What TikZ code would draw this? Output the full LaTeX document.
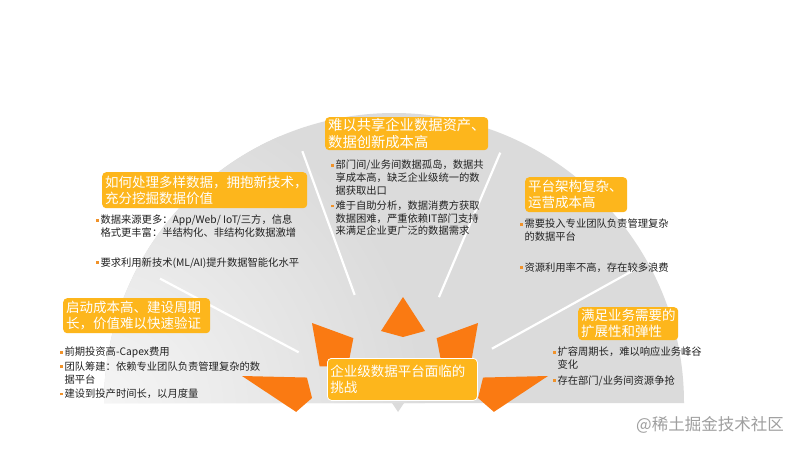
\documentclass[tikz,border=0pt]{standalone}
\usepackage{fontspec}
\setmainfont{Noto Sans CJK SC}
\usetikzlibrary{calc}
\definecolor{boxc}{HTML}{FDB61C}
\definecolor{arrc}{HTML}{FA7A12}
\definecolor{bulc}{HTML}{F0922A}
\definecolor{txtc}{HTML}{222222}
\definecolor{fanc}{HTML}{DBDBDB}
\definecolor{fanl}{HTML}{F6F6F6}
\newcommand\bul{\makebox[0.42em][l]{\textcolor{bulc}{\rule[0.22em]{0.28em}{0.28em}}}}
\newcommand\nob{\hspace*{0.42em}}
\newcommand\kite[4]{%
  \coordinate (kO) at #1; \coordinate (kI) at #2;
  \coordinate (kW) at ($(kO)!#3!(kI)$);
  \fill[arrc] (kO) -- ($(kW)!#4!90:(kI)$) -- (kI) -- ($(kW)!#4!-90:(kI)$) -- cycle;}
\tikzset{
  hbox/.style={fill=boxc, rounded corners=4pt, text=white, align=left, anchor=north west,
    inner xsep=3pt, inner ysep=1pt, font=\fontsize{13.5}{16}\selectfont},
  btext/.style={anchor=north west, inner sep=0pt, align=left, text=txtc,
    font=\fontsize{10.3}{12.6}\selectfont},
  spoke/.style={white, line width=2.2pt}
}
\begin{document}
\begin{tikzpicture}[x=1pt,y=-1pt]
\useasboundingbox (0,0) rectangle (800,450);
\fill[white] (0,0) rectangle (800,450);
% fan
\coordinate (C) at (394,403);
\fill[fanc] (104,403) arc[start angle=180,end angle=0,radius=290pt] -- cycle;
\begin{scope}
  \clip (104,403) arc[start angle=180,end angle=0,radius=290pt] -- cycle;
  \shade[inner color=fanl, outer color=fanc] (95,410) circle[radius=330pt];
\end{scope}
\fill[fanc] (392,403) -- (404,403) -- (398,412) -- cycle;
% spokes
\draw[spoke] ($(C)+(110:115pt)$) -- ($(C)+(110:268pt)$);
\draw[spoke] ($(C)+(67:115pt)$) -- ($(C)+(67:272pt)$);
\draw[spoke] ($(C)+(152:108pt)$) -- ($(C)+(152:265pt)$);
\draw[spoke] ($(C)+(29:112pt)$) -- ($(C)+(29:275pt)$);
% arrows
\kite{(403,297)}{(403,337)}{0.85}{22pt}
\kite{(312,323)}{(348,366)}{0.68}{22pt}
\kite{(478,323)}{(442,366)}{0.68}{22pt}
\kite{(242,376)}{(312,398)}{0.85}{18pt}
\kite{(548,376)}{(478,398)}{0.85}{18pt}
% header boxes
\node[hbox, text width=157pt, minimum height=33pt, font=\fontsize{14.3}{16.5}\selectfont] (hA) at (325,117) {难以共享企业数据资产、\\数据创新成本高};
\node[hbox, text width=199pt, minimum height=36pt] (hB) at (102,172) {如何处理多样数据，拥抱新技术，\\充分挖掘数据价值};
\node[hbox, text width=96pt, minimum height=35pt] (hC) at (525,177) {平台架构复杂、\\运营成本高};
\node[hbox, text width=141pt, minimum height=35pt] (hD) at (63,298) {启动成本高、建设周期\\长，价值难以快速验证};
\node[hbox, text width=94pt, minimum height=33pt] (hE) at (578,307) {满足业务需要的\\扩展性和弹性};
\node[hbox, draw=white, line width=0.8pt, text width=144pt, minimum height=42pt] (hM) at (327,358) {企业级数据平台面临的\\挑战};
% bullet texts
\node[btext] (tA) at (331,160) {\bul 部门间/业务间数据孤岛，数据共\\\nob 享成本高，缺乏企业级统一的数\\\nob 据获取出口\\[3pt]\bul 难于自助分析，数据消费方获取\\\nob 数据困难，严重依赖IT部门支持\\\nob 来满足企业更广泛的数据需求};
\node[btext] (tB) at (96,215) {\bul 数据来源更多：App/Web/ IoT/三方，信息\\\nob 格式更丰富：半结构化、非结构化数据激增\\[17pt]\bul 要求利用新技术(ML/AI)提升数据智能化水平};
\node[btext] (tC) at (520,219) {\bul 需要投入专业团队负责管理复杂\\\nob 的数据平台\\[18pt]\bul 资源利用率不高，存在较多浪费};
\node[btext] (tD) at (60,347) {\bul 前期投资高-Capex费用\\[2pt]\bul 团队筹建：依赖专业团队负责管理复杂的数\\\nob 据平台\\[2pt]\bul 建设到投产时间长，以月度量};
\node[btext] (tE) at (553,347) {\bul 扩容周期长，难以响应业务峰谷\\\nob 变化\\[3pt]\bul 存在部门/业务间资源争抢};
% watermark
\node[anchor=west, inner sep=0pt, text=gray!75, font=\fontsize{16.5}{18}\selectfont] (wm) at (636,425) {@稀土掘金技术社区};
\end{tikzpicture}
\end{document}
